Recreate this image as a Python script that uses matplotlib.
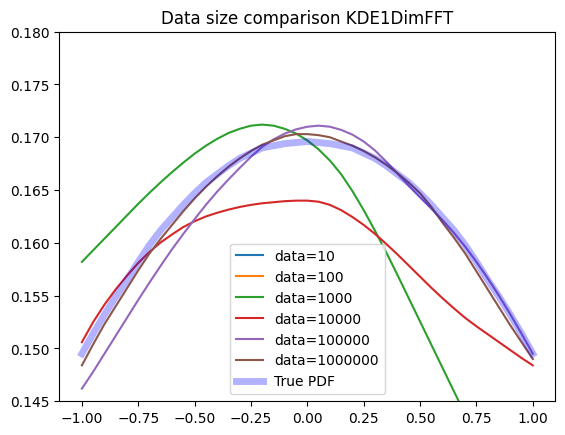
import matplotlib
matplotlib.use("Agg")
import matplotlib.pyplot as plt
import numpy as np

# x grid the densities were evaluated on
x = np.round(np.arange(-1.0, 1.001, 0.05), 2)
# the two small samples are far off the shown range, so a coarse grid will do
x_small = [-1.0, -0.5, 0.0, 0.5, 1.0]

kde_10 = [0.2450, 0.2610, 0.2660, 0.2590, 0.2420]
kde_100 = [0.1180, 0.1300, 0.1315, 0.1240, 0.1075]

kde_1000 = [0.1582, 0.1593, 0.1604, 0.1615, 0.1626, 0.1637, 0.16475, 0.16575, 0.1667, 0.1676,
            0.16845, 0.1692, 0.16985, 0.1704, 0.1708, 0.1711, 0.1712, 0.1711, 0.1708, 0.17035,
            0.1697, 0.16885, 0.1678, 0.1665, 0.1649, 0.1631, 0.16115, 0.1591, 0.15695, 0.15475,
            0.15255, 0.15035, 0.14815, 0.14595, 0.14375, 0.1415, 0.13925, 0.137, 0.1347, 0.1324, 0.1301]
kde_10000 = [0.1506, 0.1525, 0.15415, 0.1556, 0.1569, 0.1581, 0.15915, 0.16005, 0.1608, 0.1615,
             0.16205, 0.1625, 0.16285, 0.16315, 0.1634, 0.1636, 0.16375, 0.16385, 0.16395, 0.164,
             0.164, 0.1639, 0.1636, 0.1631, 0.16245, 0.1617, 0.16085, 0.1599, 0.1589, 0.15785,
             0.1568, 0.15575, 0.15475, 0.1538, 0.1529, 0.1521, 0.15135, 0.1506, 0.14985, 0.1491, 0.1484]
kde_100000 = [0.1462, 0.1478, 0.1495, 0.1512, 0.1529, 0.1546, 0.15625, 0.15785, 0.1594, 0.16085,
              0.16225, 0.1636, 0.16485, 0.166, 0.1671, 0.16815, 0.1691, 0.1698, 0.17035, 0.17075,
              0.171, 0.1711, 0.171, 0.1707, 0.17025, 0.1696, 0.16875, 0.1677, 0.16655, 0.1654,
              0.1643, 0.16325, 0.16215, 0.16095, 0.15965, 0.1582, 0.15665, 0.155, 0.15325, 0.1514, 0.1495]
kde_1000000 = [0.1484, 0.1504, 0.1523, 0.1540, 0.1557, 0.1574, 0.1590, 0.1604, 0.1617, 0.1630,
               0.1642, 0.1653, 0.1663, 0.1672, 0.1680, 0.1687, 0.1693, 0.1697, 0.1701, 0.1703,
               0.1703, 0.1702, 0.1700, 0.1696, 0.1692, 0.1687, 0.1681, 0.1674, 0.1666, 0.1657,
               0.1647, 0.1634, 0.1619, 0.1605, 0.1590, 0.1573, 0.1556, 0.1539, 0.1522, 0.1506, 0.1490]
true_pdf = [0.1495, 0.1514, 0.1532, 0.1549, 0.1565, 0.1582, 0.1598, 0.1612, 0.1624, 0.1636,
            0.1647, 0.1657, 0.1665, 0.1673, 0.1680, 0.1685, 0.1690, 0.1692, 0.1694, 0.1695,
            0.1696, 0.1695, 0.1694, 0.1692, 0.1690, 0.1685, 0.1680, 0.1673, 0.1665, 0.1657,
            0.1647, 0.1636, 0.1624, 0.1612, 0.1598, 0.1582, 0.1565, 0.1549, 0.1532, 0.1514, 0.1495]

fig, ax = plt.subplots(figsize=(6.4, 4.8), dpi=100)

ax.plot(x_small, kde_10, label="data=10")
ax.plot(x_small, kde_100, label="data=100")
ax.plot(x, kde_1000, label="data=1000")
ax.plot(x, kde_10000, label="data=10000")
ax.plot(x, kde_100000, label="data=100000")
ax.plot(x, kde_1000000, label="data=1000000")
ax.plot(x, true_pdf, color="blue", alpha=0.3, linewidth=5, label="True PDF")

ax.set_ylim(0.145, 0.18)
ax.set_title("Data size comparison KDE1DimFFT")
ax.legend(loc="lower center")

plt.savefig("out.png", bbox_inches="tight")
